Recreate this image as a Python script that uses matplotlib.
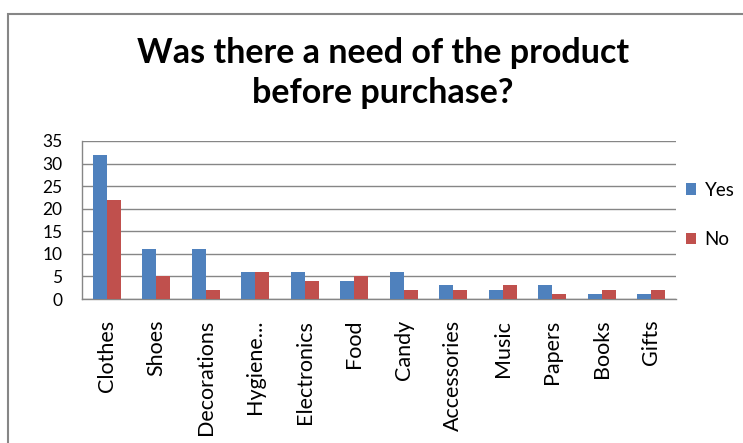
import numpy as np
import matplotlib.pyplot as plt
from matplotlib.patches import Rectangle

plt.rcParams['font.family'] = ['Lato', 'DejaVu Sans']

categories = ['Clothes', 'Shoes', 'Decorations', 'Hygiene...', 'Electronics', 'Food',
              'Candy', 'Accessories', 'Music', 'Papers', 'Books', 'Gifts']
yes = [32, 11, 11, 6, 6, 4, 6, 3, 2, 3, 1, 1]
no = [22, 5, 2, 6, 4, 5, 2, 2, 3, 1, 2, 2]
yticks = [0, 5, 10, 15, 20, 25, 30, 35]

blue = '#4F81BD'
red = '#C0504D'
grey = '#868686'

fig = plt.figure(figsize=(7.43, 4.43), dpi=100)
ax = fig.add_axes([82/743, 1-299/443, (676-82)/743, (299-141)/443])

x = np.arange(len(categories))
w = 0.28
ax.bar(x - w/2, yes, w, color=blue, label='Yes', zorder=3)
ax.bar(x + w/2, no, w, color=red, label='No', zorder=3)

ax.set_xlim(-0.5, len(categories) - 0.5)
ax.set_ylim(0, 35)
ax.set_yticks(yticks)
ax.set_yticklabels([str(t) for t in yticks], fontsize=12.5)
ax.set_xticks(x)
ax.set_xticklabels(categories, rotation=90, fontsize=15.5)
ax.tick_params(axis='y', length=0, pad=14)
ax.tick_params(axis='x', length=0, pad=15)
ax.yaxis.grid(True, color=grey, linewidth=1, zorder=0)
for s in ['top', 'right']:
    ax.spines[s].set_visible(False)
for s in ['left', 'bottom']:
    ax.spines[s].set_color(grey)
    ax.spines[s].set_linewidth(1)

fig.suptitle('Was there a need of the product\nbefore purchase?', x=383/743, y=1-37/443,
             fontsize=24.5, fontweight='bold', linespacing=1.3)

leg = fig.legend(loc='center left', bbox_to_anchor=(686/743, 1-215/443), frameon=False,
                 fontsize=13.5, handlelength=0.55, handleheight=0.55, handletextpad=0.45,
                 labelspacing=1.75, borderpad=0, borderaxespad=0)

# outer chart border (top and left edges only show)
fig.add_artist(Rectangle((8/743, -0.02), 1.0, 1 - 14/443 + 0.02, transform=fig.transFigure,
                         fill=False, edgecolor=grey, linewidth=1.5))

fig.savefig('out.png', dpi=100)
